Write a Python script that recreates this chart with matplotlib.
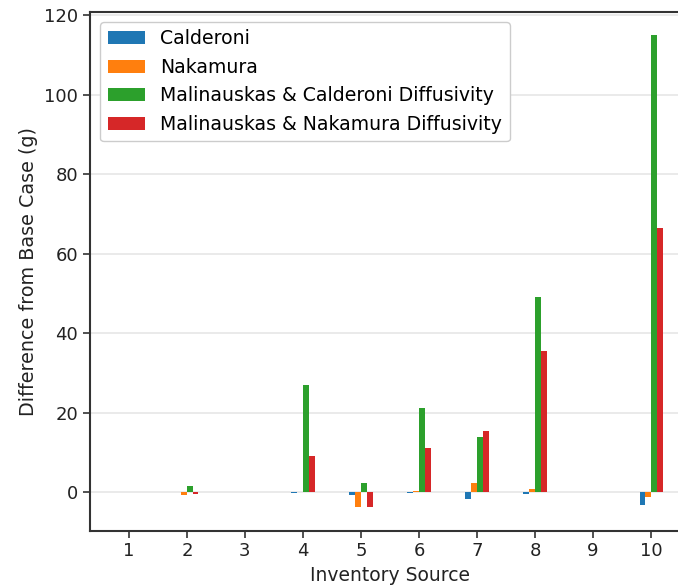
import numpy as np
import matplotlib.pyplot as plt

sources = np.arange(1, 11)
calderoni = [0, 0, 0, -0.2, -0.7, -0.2, -1.6, -0.5, 0, -3.2]
nakamura = [0, -0.7, 0, 0, -3.6, 0.3, 2.3, 1.0, 0, -1.1]
mal_cald = [0, 1.6, 0, 27.0, 2.5, 21.2, 14.0, 49.1, 0, 115.0]
mal_naka = [0, -0.4, 0, 9.1, -3.6, 11.2, 15.5, 35.6, 0, 66.5]

labels = ['Calderoni', 'Nakamura', 'Malinauskas & Calderoni Diffusivity',
          'Malinauskas & Nakamura Diffusivity']
colors = ['#1f77b4', '#ff7f0e', '#2ca02c', '#d62728']
series = [calderoni, nakamura, mal_cald, mal_naka]

fig = plt.figure(figsize=(6.78, 5.88), dpi=100)
ax = fig.add_axes([0.1327, 0.0975, 0.885, 0.882])

w = 0.1
offsets = [-0.15, -0.05, 0.05, 0.15]
for vals, lab, col, off in zip(series, labels, colors, offsets):
    ax.bar(sources + off, vals, width=w, color=col, label=lab, zorder=3)

ax.set_xlim(0.33, 10.67)
ax.set_ylim(-9.6, 120.8)
ax.set_xticks(sources)
ax.set_yticks(np.arange(0, 121, 20))
ax.yaxis.grid(True, color='#e6e6e6', linewidth=1.2, zorder=0)
ax.set_axisbelow(True)

for s in ax.spines.values():
    s.set_color('#333333')
    s.set_linewidth(1.5)
ax.tick_params(labelsize=13, length=5, width=1.2, color='#333333',
               labelcolor='#222222')

ax.set_xlabel('Inventory Source', fontsize=13.5, labelpad=4, color='#222222')
ax.set_ylabel('Difference from Base Case (g)', fontsize=13.8, color='#222222')

leg = ax.legend(loc='upper left', fontsize=13.6, fancybox=True,
                edgecolor='#cccccc', framealpha=1, borderaxespad=0,
                bbox_to_anchor=(0.0167, 0.981))

fig.savefig('out.png', dpi=100)
